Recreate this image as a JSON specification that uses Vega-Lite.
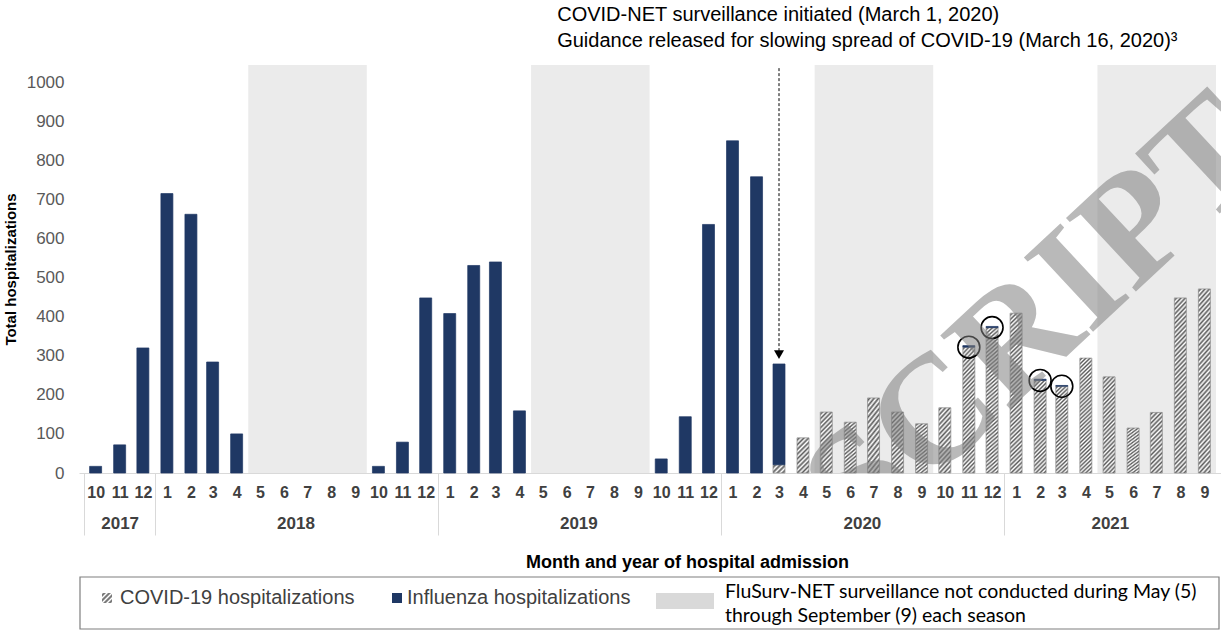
{
"$schema": "https://vega.github.io/schema/vega-lite/v6.json",
"padding": {"left": 3, "top": 5, "right": 0, "bottom": 0},
"spacing": 0,
"title": {"text": ["COVID-NET surveillance initiated (March 1, 2020)", "Guidance released for slowing spread of COVID-19 (March 16, 2020)³"], "anchor": "start", "dx": 554, "fontSize": 20, "fontWeight": "normal", "color": "#000000", "lineHeight": 26, "offset": 14},
"datasets": {
"months": [
{"date": "2017-10-16T00:00", "flu": 17},
{"date": "2017-11-16T00:00", "flu": 72},
{"date": "2017-12-16T00:00", "flu": 320},
{"date": "2018-01-16T00:00", "flu": 715},
{"date": "2018-02-16T00:00", "flu": 662},
{"date": "2018-03-16T00:00", "flu": 284},
{"date": "2018-04-16T00:00", "flu": 100},
{"date": "2018-05-16T00:00"},
{"date": "2018-06-16T00:00"},
{"date": "2018-07-16T00:00"},
{"date": "2018-08-16T00:00"},
{"date": "2018-09-16T00:00"},
{"date": "2018-10-16T00:00", "flu": 17},
{"date": "2018-11-16T00:00", "flu": 79},
{"date": "2018-12-16T00:00", "flu": 448},
{"date": "2019-01-16T00:00", "flu": 408},
{"date": "2019-02-16T00:00", "flu": 531},
{"date": "2019-03-16T00:00", "flu": 540},
{"date": "2019-04-16T00:00", "flu": 159},
{"date": "2019-05-16T00:00"},
{"date": "2019-06-16T00:00"},
{"date": "2019-07-16T00:00"},
{"date": "2019-08-16T00:00"},
{"date": "2019-09-16T00:00"},
{"date": "2019-10-16T00:00", "flu": 36},
{"date": "2019-11-16T00:00", "flu": 144},
{"date": "2019-12-16T00:00", "flu": 636},
{"date": "2020-01-16T00:00", "flu": 850},
{"date": "2020-02-16T00:00", "flu": 758},
{"date": "2020-03-16T00:00", "flu": 258, "covid": 21},
{"date": "2020-04-16T00:00", "covid": 90},
{"date": "2020-05-16T00:00", "covid": 156},
{"date": "2020-06-16T00:00", "covid": 130},
{"date": "2020-07-16T00:00", "covid": 192},
{"date": "2020-08-16T00:00", "covid": 156},
{"date": "2020-09-16T00:00", "covid": 126},
{"date": "2020-10-16T00:00", "covid": 167},
{"date": "2020-11-16T00:00", "flu": 4, "covid": 322},
{"date": "2020-12-16T00:00", "flu": 3, "covid": 372},
{"date": "2021-01-16T00:00", "covid": 409},
{"date": "2021-02-16T00:00", "flu": 3, "covid": 237},
{"date": "2021-03-16T00:00", "flu": 2, "covid": 222},
{"date": "2021-04-16T00:00", "covid": 294},
{"date": "2021-05-16T00:00", "covid": 246},
{"date": "2021-06-16T00:00", "covid": 115},
{"date": "2021-07-16T00:00", "covid": 155},
{"date": "2021-08-16T00:00", "covid": 448},
{"date": "2021-09-16T00:00", "covid": 471}
],
"shades": [
{"start": "2018-05-01T00:00", "end": "2018-10-01T00:00"},
{"start": "2019-05-01T00:00", "end": "2019-10-01T00:00"},
{"start": "2020-05-01T00:00", "end": "2020-10-01T00:00"},
{"start": "2021-05-01T00:00", "end": "2021-10-01T00:00"}
]
},
"vconcat": [
{
"width": 1142,
"height": 408,
"layer": [
{
"data": {"name": "shades", "format": {"parse": {"start": "date", "end": "date"}}},
"mark": {"type": "rect", "fill": "#ebebeb", "stroke": null},
"encoding": {
"x": {"field": "start", "type": "temporal",
"scale": {"domain": [{"year": 2017, "month": 10, "date": 1}, {"year": 2021, "month": 10, "date": 1}], "nice": false},
"axis": {"orient": "bottom", "values": [{"year": 2017, "month": 10, "date": 1}, {"year": 2018, "month": 1, "date": 1}, {"year": 2019, "month": 1, "date": 1}, {"year": 2020, "month": 1, "date": 1}, {"year": 2021, "month": 1, "date": 1}],
"ticks": true, "tickSize": 62, "tickColor": "#d9d9d9", "tickWidth": 1, "labels": false, "domain": false, "grid": false,
"title": "Month and year of hospital admission", "titleFontSize": 18, "titleFontWeight": "bold", "titleColor": "#000000", "titlePadding": 18, "titleX": 608}},
"x2": {"field": "end"}
}
},
{
"data": {"name": "months", "format": {"parse": {"date": "date"}}},
"transform": [{"fold": ["covid", "flu"], "as": ["key", "value"]}, {"filter": "isValid(datum.value) && datum.value > 0"}],
"mark": {"type": "bar", "width": 12, "strokeWidth": 0.7},
"encoding": {
"x": {"field": "date", "type": "temporal",
"axis": {"orient": "bottom", "values": [
{"year": 2017, "month": 10, "date": 16}, {"year": 2017, "month": 11, "date": 16}, {"year": 2017, "month": 12, "date": 16},
{"year": 2018, "month": 1, "date": 16}, {"year": 2018, "month": 2, "date": 16}, {"year": 2018, "month": 3, "date": 16}, {"year": 2018, "month": 4, "date": 16}, {"year": 2018, "month": 5, "date": 16}, {"year": 2018, "month": 6, "date": 16}, {"year": 2018, "month": 7, "date": 16}, {"year": 2018, "month": 8, "date": 16}, {"year": 2018, "month": 9, "date": 16}, {"year": 2018, "month": 10, "date": 16}, {"year": 2018, "month": 11, "date": 16}, {"year": 2018, "month": 12, "date": 16},
{"year": 2019, "month": 1, "date": 16}, {"year": 2019, "month": 2, "date": 16}, {"year": 2019, "month": 3, "date": 16}, {"year": 2019, "month": 4, "date": 16}, {"year": 2019, "month": 5, "date": 16}, {"year": 2019, "month": 6, "date": 16}, {"year": 2019, "month": 7, "date": 16}, {"year": 2019, "month": 8, "date": 16}, {"year": 2019, "month": 9, "date": 16}, {"year": 2019, "month": 10, "date": 16}, {"year": 2019, "month": 11, "date": 16}, {"year": 2019, "month": 12, "date": 16},
{"year": 2020, "month": 1, "date": 16}, {"year": 2020, "month": 2, "date": 16}, {"year": 2020, "month": 3, "date": 16}, {"year": 2020, "month": 4, "date": 16}, {"year": 2020, "month": 5, "date": 16}, {"year": 2020, "month": 6, "date": 16}, {"year": 2020, "month": 7, "date": 16}, {"year": 2020, "month": 8, "date": 16}, {"year": 2020, "month": 9, "date": 16}, {"year": 2020, "month": 10, "date": 16}, {"year": 2020, "month": 11, "date": 16}, {"year": 2020, "month": 12, "date": 16},
{"year": 2021, "month": 1, "date": 16}, {"year": 2021, "month": 2, "date": 16}, {"year": 2021, "month": 3, "date": 16}, {"year": 2021, "month": 4, "date": 16}, {"year": 2021, "month": 5, "date": 16}, {"year": 2021, "month": 6, "date": 16}, {"year": 2021, "month": 7, "date": 16}, {"year": 2021, "month": 8, "date": 16}, {"year": 2021, "month": 9, "date": 16}],
"format": "%-m", "labelFontSize": 16, "labelFontWeight": "bold", "labelColor": "#404040", "ticks": false, "domain": true, "domainColor": "#d9d9d9", "labelPadding": 11, "labelOverlap": false, "labelFlush": false, "grid": false, "title": null}},
"y": {"field": "value", "type": "quantitative", "stack": "zero", "title": "Total hospitalizations",
"scale": {"domain": [0, 1044], "nice": false},
"axis": {"values": [0, 100, 200, 300, 400, 500, 600, 700, 800, 900, 1000], "format": "d", "titleFontSize": 15, "titleFontWeight": "bold", "titleColor": "#000000", "labelFontSize": 17, "labelColor": "#595959", "ticks": false, "domain": false, "grid": false, "labelPadding": 15, "titlePadding": 8}},
"detail": {"field": "key"},
"order": {"field": "key", "sort": "ascending"},
"fill": {"condition": [
{"test": "datum.key == 'flu'", "value": "#1f3864"},
{"test": "datum.value < 50", "value": {"gradient": "linear", "x1": 0, "y1": 0, "x2": 1.1475, "y2": 0.7841, "stops": [{"offset":0,"color":"#fff"},{"offset":0.125,"color":"#5a5a5a"},{"offset":0.25,"color":"#fff"},{"offset":0.375,"color":"#5a5a5a"},{"offset":0.5,"color":"#fff"},{"offset":0.625,"color":"#5a5a5a"},{"offset":0.75,"color":"#fff"},{"offset":0.875,"color":"#5a5a5a"},{"offset":1,"color":"#fff"}]}},
{"test": "datum.value < 105", "value": {"gradient": "linear", "x1": 0, "y1": 0, "x2": 0.412, "y2": 1.2016, "stops": [{"offset":0,"color":"#fff"},{"offset":0.05,"color":"#5a5a5a"},{"offset":0.1,"color":"#fff"},{"offset":0.15,"color":"#5a5a5a"},{"offset":0.2,"color":"#fff"},{"offset":0.25,"color":"#5a5a5a"},{"offset":0.3,"color":"#fff"},{"offset":0.35,"color":"#5a5a5a"},{"offset":0.4,"color":"#fff"},{"offset":0.45,"color":"#5a5a5a"},{"offset":0.5,"color":"#fff"},{"offset":0.55,"color":"#5a5a5a"},{"offset":0.6,"color":"#fff"},{"offset":0.65,"color":"#5a5a5a"},{"offset":0.7,"color":"#fff"},{"offset":0.75,"color":"#5a5a5a"},{"offset":0.8,"color":"#fff"},{"offset":0.85,"color":"#5a5a5a"},{"offset":0.9,"color":"#fff"},{"offset":0.95,"color":"#5a5a5a"},{"offset":1,"color":"#fff"}]}},
{"test": "datum.value < 205", "value": {"gradient": "linear", "x1": 0, "y1": 0, "x2": 0.2308, "y2": 1.1538, "stops": [{"offset":0,"color":"#fff"},{"offset":0.03125,"color":"#5a5a5a"},{"offset":0.0625,"color":"#fff"},{"offset":0.09375,"color":"#5a5a5a"},{"offset":0.125,"color":"#fff"},{"offset":0.15625,"color":"#5a5a5a"},{"offset":0.1875,"color":"#fff"},{"offset":0.21875,"color":"#5a5a5a"},{"offset":0.25,"color":"#fff"},{"offset":0.28125,"color":"#5a5a5a"},{"offset":0.3125,"color":"#fff"},{"offset":0.34375,"color":"#5a5a5a"},{"offset":0.375,"color":"#fff"},{"offset":0.40625,"color":"#5a5a5a"},{"offset":0.4375,"color":"#fff"},{"offset":0.46875,"color":"#5a5a5a"},{"offset":0.5,"color":"#fff"},{"offset":0.53125,"color":"#5a5a5a"},{"offset":0.5625,"color":"#fff"},{"offset":0.59375,"color":"#5a5a5a"},{"offset":0.625,"color":"#fff"},{"offset":0.65625,"color":"#5a5a5a"},{"offset":0.6875,"color":"#fff"},{"offset":0.71875,"color":"#5a5a5a"},{"offset":0.75,"color":"#fff"},{"offset":0.78125,"color":"#5a5a5a"},{"offset":0.8125,"color":"#fff"},{"offset":0.84375,"color":"#5a5a5a"},{"offset":0.875,"color":"#fff"},{"offset":0.90625,"color":"#5a5a5a"},{"offset":0.9375,"color":"#fff"},{"offset":0.96875,"color":"#5a5a5a"},{"offset":1,"color":"#fff"}]}},
{"test": "datum.value < 270", "value": {"gradient": "linear", "x1": 0, "y1": 0, "x2": 0.145, "y2": 1.1115, "stops": [{"offset":0,"color":"#fff"},{"offset":0.02,"color":"#5a5a5a"},{"offset":0.04,"color":"#fff"},{"offset":0.06,"color":"#5a5a5a"},{"offset":0.08,"color":"#fff"},{"offset":0.1,"color":"#5a5a5a"},{"offset":0.12,"color":"#fff"},{"offset":0.14,"color":"#5a5a5a"},{"offset":0.16,"color":"#fff"},{"offset":0.18,"color":"#5a5a5a"},{"offset":0.2,"color":"#fff"},{"offset":0.22,"color":"#5a5a5a"},{"offset":0.24,"color":"#fff"},{"offset":0.26,"color":"#5a5a5a"},{"offset":0.28,"color":"#fff"},{"offset":0.3,"color":"#5a5a5a"},{"offset":0.32,"color":"#fff"},{"offset":0.34,"color":"#5a5a5a"},{"offset":0.36,"color":"#fff"},{"offset":0.38,"color":"#5a5a5a"},{"offset":0.4,"color":"#fff"},{"offset":0.42,"color":"#5a5a5a"},{"offset":0.44,"color":"#fff"},{"offset":0.46,"color":"#5a5a5a"},{"offset":0.48,"color":"#fff"},{"offset":0.5,"color":"#5a5a5a"},{"offset":0.52,"color":"#fff"},{"offset":0.54,"color":"#5a5a5a"},{"offset":0.56,"color":"#fff"},{"offset":0.58,"color":"#5a5a5a"},{"offset":0.6,"color":"#fff"},{"offset":0.62,"color":"#5a5a5a"},{"offset":0.64,"color":"#fff"},{"offset":0.66,"color":"#5a5a5a"},{"offset":0.68,"color":"#fff"},{"offset":0.7,"color":"#5a5a5a"},{"offset":0.72,"color":"#fff"},{"offset":0.74,"color":"#5a5a5a"},{"offset":0.76,"color":"#fff"},{"offset":0.78,"color":"#5a5a5a"},{"offset":0.8,"color":"#fff"},{"offset":0.82,"color":"#5a5a5a"},{"offset":0.84,"color":"#fff"},{"offset":0.86,"color":"#5a5a5a"},{"offset":0.88,"color":"#fff"},{"offset":0.9,"color":"#5a5a5a"},{"offset":0.92,"color":"#fff"},{"offset":0.94,"color":"#5a5a5a"},{"offset":0.96,"color":"#fff"},{"offset":0.98,"color":"#5a5a5a"},{"offset":1,"color":"#fff"}]}},
{"test": "datum.value < 340", "value": {"gradient": "linear", "x1": 0, "y1": 0, "x2": 0.1089, "y2": 1.0891, "stops": [{"offset":0,"color":"#fff"},{"offset":0.015625,"color":"#5a5a5a"},{"offset":0.03125,"color":"#fff"},{"offset":0.046875,"color":"#5a5a5a"},{"offset":0.0625,"color":"#fff"},{"offset":0.078125,"color":"#5a5a5a"},{"offset":0.09375,"color":"#fff"},{"offset":0.109375,"color":"#5a5a5a"},{"offset":0.125,"color":"#fff"},{"offset":0.140625,"color":"#5a5a5a"},{"offset":0.15625,"color":"#fff"},{"offset":0.171875,"color":"#5a5a5a"},{"offset":0.1875,"color":"#fff"},{"offset":0.203125,"color":"#5a5a5a"},{"offset":0.21875,"color":"#fff"},{"offset":0.234375,"color":"#5a5a5a"},{"offset":0.25,"color":"#fff"},{"offset":0.265625,"color":"#5a5a5a"},{"offset":0.28125,"color":"#fff"},{"offset":0.296875,"color":"#5a5a5a"},{"offset":0.3125,"color":"#fff"},{"offset":0.328125,"color":"#5a5a5a"},{"offset":0.34375,"color":"#fff"},{"offset":0.359375,"color":"#5a5a5a"},{"offset":0.375,"color":"#fff"},{"offset":0.390625,"color":"#5a5a5a"},{"offset":0.40625,"color":"#fff"},{"offset":0.421875,"color":"#5a5a5a"},{"offset":0.4375,"color":"#fff"},{"offset":0.453125,"color":"#5a5a5a"},{"offset":0.46875,"color":"#fff"},{"offset":0.484375,"color":"#5a5a5a"},{"offset":0.5,"color":"#fff"},{"offset":0.515625,"color":"#5a5a5a"},{"offset":0.53125,"color":"#fff"},{"offset":0.546875,"color":"#5a5a5a"},{"offset":0.5625,"color":"#fff"},{"offset":0.578125,"color":"#5a5a5a"},{"offset":0.59375,"color":"#fff"},{"offset":0.609375,"color":"#5a5a5a"},{"offset":0.625,"color":"#fff"},{"offset":0.640625,"color":"#5a5a5a"},{"offset":0.65625,"color":"#fff"},{"offset":0.671875,"color":"#5a5a5a"},{"offset":0.6875,"color":"#fff"},{"offset":0.703125,"color":"#5a5a5a"},{"offset":0.71875,"color":"#fff"},{"offset":0.734375,"color":"#5a5a5a"},{"offset":0.75,"color":"#fff"},{"offset":0.765625,"color":"#5a5a5a"},{"offset":0.78125,"color":"#fff"},{"offset":0.796875,"color":"#5a5a5a"},{"offset":0.8125,"color":"#fff"},{"offset":0.828125,"color":"#5a5a5a"},{"offset":0.84375,"color":"#fff"},{"offset":0.859375,"color":"#5a5a5a"},{"offset":0.875,"color":"#fff"},{"offset":0.890625,"color":"#5a5a5a"},{"offset":0.90625,"color":"#fff"},{"offset":0.921875,"color":"#5a5a5a"},{"offset":0.9375,"color":"#fff"},{"offset":0.953125,"color":"#5a5a5a"},{"offset":0.96875,"color":"#fff"},{"offset":0.984375,"color":"#5a5a5a"},{"offset":1,"color":"#fff"}]}}
],
"value": {"gradient": "linear", "x1": 0, "y1": 0, "x2": 0.0776, "y2": 1.0671, "stops": [{"offset":0,"color":"#fff"},{"offset":0.0125,"color":"#5a5a5a"},{"offset":0.025,"color":"#fff"},{"offset":0.0375,"color":"#5a5a5a"},{"offset":0.05,"color":"#fff"},{"offset":0.0625,"color":"#5a5a5a"},{"offset":0.075,"color":"#fff"},{"offset":0.0875,"color":"#5a5a5a"},{"offset":0.1,"color":"#fff"},{"offset":0.1125,"color":"#5a5a5a"},{"offset":0.125,"color":"#fff"},{"offset":0.1375,"color":"#5a5a5a"},{"offset":0.15,"color":"#fff"},{"offset":0.1625,"color":"#5a5a5a"},{"offset":0.175,"color":"#fff"},{"offset":0.1875,"color":"#5a5a5a"},{"offset":0.2,"color":"#fff"},{"offset":0.2125,"color":"#5a5a5a"},{"offset":0.225,"color":"#fff"},{"offset":0.2375,"color":"#5a5a5a"},{"offset":0.25,"color":"#fff"},{"offset":0.2625,"color":"#5a5a5a"},{"offset":0.275,"color":"#fff"},{"offset":0.2875,"color":"#5a5a5a"},{"offset":0.3,"color":"#fff"},{"offset":0.3125,"color":"#5a5a5a"},{"offset":0.325,"color":"#fff"},{"offset":0.3375,"color":"#5a5a5a"},{"offset":0.35,"color":"#fff"},{"offset":0.3625,"color":"#5a5a5a"},{"offset":0.375,"color":"#fff"},{"offset":0.3875,"color":"#5a5a5a"},{"offset":0.4,"color":"#fff"},{"offset":0.4125,"color":"#5a5a5a"},{"offset":0.425,"color":"#fff"},{"offset":0.4375,"color":"#5a5a5a"},{"offset":0.45,"color":"#fff"},{"offset":0.4625,"color":"#5a5a5a"},{"offset":0.475,"color":"#fff"},{"offset":0.4875,"color":"#5a5a5a"},{"offset":0.5,"color":"#fff"},{"offset":0.5125,"color":"#5a5a5a"},{"offset":0.525,"color":"#fff"},{"offset":0.5375,"color":"#5a5a5a"},{"offset":0.55,"color":"#fff"},{"offset":0.5625,"color":"#5a5a5a"},{"offset":0.575,"color":"#fff"},{"offset":0.5875,"color":"#5a5a5a"},{"offset":0.6,"color":"#fff"},{"offset":0.6125,"color":"#5a5a5a"},{"offset":0.625,"color":"#fff"},{"offset":0.6375,"color":"#5a5a5a"},{"offset":0.65,"color":"#fff"},{"offset":0.6625,"color":"#5a5a5a"},{"offset":0.675,"color":"#fff"},{"offset":0.6875,"color":"#5a5a5a"},{"offset":0.7,"color":"#fff"},{"offset":0.7125,"color":"#5a5a5a"},{"offset":0.725,"color":"#fff"},{"offset":0.7375,"color":"#5a5a5a"},{"offset":0.75,"color":"#fff"},{"offset":0.7625,"color":"#5a5a5a"},{"offset":0.775,"color":"#fff"},{"offset":0.7875,"color":"#5a5a5a"},{"offset":0.8,"color":"#fff"},{"offset":0.8125,"color":"#5a5a5a"},{"offset":0.825,"color":"#fff"},{"offset":0.8375,"color":"#5a5a5a"},{"offset":0.85,"color":"#fff"},{"offset":0.8625,"color":"#5a5a5a"},{"offset":0.875,"color":"#fff"},{"offset":0.8875,"color":"#5a5a5a"},{"offset":0.9,"color":"#fff"},{"offset":0.9125,"color":"#5a5a5a"},{"offset":0.925,"color":"#fff"},{"offset":0.9375,"color":"#5a5a5a"},{"offset":0.95,"color":"#fff"},{"offset":0.9625,"color":"#5a5a5a"},{"offset":0.975,"color":"#fff"},{"offset":0.9875,"color":"#5a5a5a"},{"offset":1,"color":"#fff"}]}
},
"stroke": {"condition": {"test": "datum.key == 'flu'", "value": "#1f3864"}, "value": "#8a8a8a"}
}
},
{
"data": {"values": [{}]},
"mark": {"type": "rule", "color": "#000000", "strokeWidth": 1, "strokeDash": [3, 2]},
"encoding": {
"x": {"datum": {"year": 2020, "month": 3, "date": 16}, "type": "temporal",
"axis": {"orient": "bottom", "values": [{"year": 2017, "month": 11, "date": 16}, {"year": 2018, "month": 7, "date": 1}, {"year": 2019, "month": 7, "date": 1}, {"year": 2020, "month": 7, "date": 1}, {"year": 2021, "month": 5, "date": 17}],
"format": "%Y", "labelFontSize": 17, "labelFontWeight": "bold", "labelColor": "#404040", "ticks": false, "domain": false, "grid": false, "labelPadding": 42, "labelOverlap": false, "labelFlush": false, "title": null}},
"y": {"datum": 1036, "type": "quantitative"},
"y2": {"datum": 312}
}
},
{
"data": {"values": [{}]},
"mark": {"type": "point", "shape": "triangle-down", "filled": true, "color": "#000000", "size": 100, "opacity": 1},
"encoding": {
"x": {"datum": {"year": 2020, "month": 3, "date": 16}, "type": "temporal", "axis": null},
"y": {"datum": 303, "type": "quantitative"}
}
},
{
"data": {"name": "months", "format": {"parse": {"date": "date"}}},
"transform": [{"filter": "datum.covid > 0 && datum.flu > 0 && datum.flu < 10"}],
"mark": {"type": "point", "shape": "circle", "filled": false, "stroke": "#000000", "strokeWidth": 1.6, "size": 480, "opacity": 1},
"encoding": {
"x": {"field": "date", "type": "temporal", "axis": null},
"y": {"field": "covid", "type": "quantitative", "title": "Total hospitalizations"}
}
},
{
"data": {"values": [{}]},
"mark": {"type": "text", "text": "NUSCRIPT", "font": "Liberation Serif", "fontWeight": "bold", "fontSize": 155, "angle": -43, "align": "center", "baseline": "middle", "color": "#808080", "opacity": 0.55, "clip": true},
"encoding": {
"x": {"datum": {"year": 2020, "month": 10, "date": 31}, "type": "temporal", "axis": null},
"y": {"datum": 200, "type": "quantitative"}
}
}
],
"resolve": {"axis": {"x": "independent"}}
},
{
"width": 1142,
"height": 58,
"data": {"values": [{}]},
"layer": [
{
"mark": {"type": "rect", "fillOpacity": 0, "stroke": "#7f7f7f", "strokeWidth": 1.2},
"encoding": {
"x": {"datum": 1, "type": "quantitative", "scale": {"domain": [0, 1142], "nice": false, "zero": false}, "axis": null},
"x2": {"datum": 1140},
"y": {"datum": 5, "type": "quantitative", "scale": {"domain": [0, 58], "nice": false, "reverse": true}, "axis": null},
"y2": {"datum": 57}
}
},
{
"mark": {"type": "point", "shape": "square", "size": 100, "filled": true, "opacity": 1, "strokeWidth": 0,
"fill": {"gradient": "linear", "x1": 0, "y1": 0, "x2": 1, "y2": 1, "stops": [{"offset":0,"color":"#fff"},{"offset":0.125,"color":"#5a5a5a"},{"offset":0.25,"color":"#fff"},{"offset":0.375,"color":"#5a5a5a"},{"offset":0.5,"color":"#fff"},{"offset":0.625,"color":"#5a5a5a"},{"offset":0.75,"color":"#fff"},{"offset":0.875,"color":"#5a5a5a"},{"offset":1,"color":"#fff"}]}},
"encoding": {"x": {"datum": 28, "type": "quantitative"}, "y": {"datum": 26, "type": "quantitative"}}
},
{
"mark": {"type": "text", "align": "left", "baseline": "middle", "fontSize": 20, "color": "#404040", "text": "COVID-19 hospitalizations"},
"encoding": {"x": {"datum": 41, "type": "quantitative"}, "y": {"datum": 26, "type": "quantitative"}}
},
{
"mark": {"type": "point", "shape": "square", "size": 100, "filled": true, "opacity": 1, "color": "#1f3864"},
"encoding": {"x": {"datum": 318, "type": "quantitative"}, "y": {"datum": 26, "type": "quantitative"}}
},
{
"mark": {"type": "text", "align": "left", "baseline": "middle", "fontSize": 20, "color": "#404040", "text": "Influenza hospitalizations"},
"encoding": {"x": {"datum": 328, "type": "quantitative"}, "y": {"datum": 26, "type": "quantitative"}}
},
{
"mark": {"type": "rect", "fill": "#d9d9d9"},
"encoding": {"x": {"datum": 577, "type": "quantitative"}, "x2": {"datum": 635}, "y": {"datum": 21, "type": "quantitative"}, "y2": {"datum": 37}}
},
{
"mark": {"type": "text", "align": "left", "baseline": "middle", "fontSize": 19.5, "font": "Lato", "color": "#000000", "text": "FluSurv-NET surveillance not conducted during May (5)"},
"encoding": {"x": {"datum": 646, "type": "quantitative"}, "y": {"datum": 19.5, "type": "quantitative"}}
},
{
"mark": {"type": "text", "align": "left", "baseline": "middle", "fontSize": 19.5, "font": "Lato", "color": "#000000", "text": "through September (9) each season"},
"encoding": {"x": {"datum": 646, "type": "quantitative"}, "y": {"datum": 44, "type": "quantitative"}}
}
]
}
],
"config": {"view": {"stroke": null}, "font": "Liberation Sans", "axis": {"grid": false}}
}
